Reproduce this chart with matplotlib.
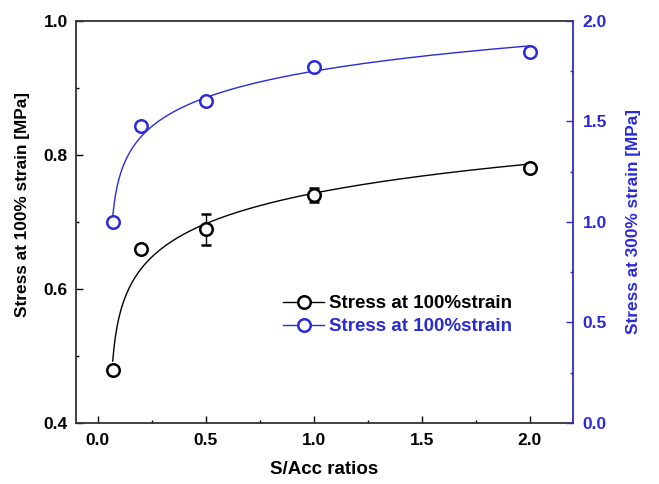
import numpy as np
import matplotlib
matplotlib.use("Agg")
import matplotlib.pyplot as plt
from matplotlib.ticker import MultipleLocator

plt.rcParams['font.family'] = ['Liberation Sans', 'DejaVu Sans']
plt.rcParams['font.weight'] = 'bold'

# Data
ratios = [0.07, 0.2, 0.5, 1.0, 2.0]
stress100 = [0.479, 0.660, 0.689, 0.740, 0.780]
stress100_err = [0.0, 0.0, 0.023, 0.010, 0.005]
stress300 = [1.00, 1.476, 1.600, 1.768, 1.846]
legend_labels = ["Stress at 100%strain", "Stress at 100%strain"]

BLUE = '#2a2ad8'
FIT_OFFSET = 0.055  # shape parameter of the logarithmic fit y = a + b*ln(x - x0)


def log_fit(x, y, x0=FIT_OFFSET):
    x = np.asarray(x, float)
    y = np.asarray(y, float)
    X = np.column_stack([np.ones_like(x), np.log(x - x0)])
    coef, *_ = np.linalg.lstsq(X, y, rcond=None)
    xs = np.linspace(x.min(), x.max(), 300)
    return xs, coef[0] + coef[1] * np.log(xs - x0)


fig = plt.figure(figsize=(6.59, 4.84), dpi=100)
ax = fig.add_axes([0.1153, 0.126, 0.7542, 0.8312])
ax2 = ax.twinx()

MS, MEW = 9, 1.8

# black series
fx, fy = log_fit(ratios, stress100)
ax.plot(fx, fy, color='black', lw=1.0)
ax.errorbar(ratios, stress100, yerr=stress100_err, fmt='o', mfc='white',
            mec='black', ms=MS, mew=MEW, ecolor='black', elinewidth=1.0,
            capsize=3.5, capthick=1.0, zorder=5)

# blue series
bx, by = log_fit(ratios, stress300)
ax2.plot(bx, by, color=BLUE, lw=1.0)
ax2.plot(ratios, stress300, 'o', mfc='white', mec=BLUE, ms=MS, mew=MEW, zorder=5)

ax.set_xlim(-0.1, 2.2)
ax.set_ylim(0.4, 1.0)
ax2.set_ylim(0.0, 2.0)

ax.xaxis.set_major_locator(MultipleLocator(0.5))
ax.xaxis.set_minor_locator(MultipleLocator(0.25))
ax.yaxis.set_major_locator(MultipleLocator(0.2))
ax.yaxis.set_minor_locator(MultipleLocator(0.1))
ax2.yaxis.set_major_locator(MultipleLocator(0.5))
ax2.yaxis.set_minor_locator(MultipleLocator(0.25))

TS = 12.5
ax.tick_params(axis='both', which='both', direction='in', labelsize=TS, width=1.0)
ax.tick_params(which='major', length=5)
ax.tick_params(which='minor', length=2.5)
ax.tick_params(axis='y', pad=6)
ax.tick_params(axis='x', pad=7)
ax.tick_params(top=False, which='both')
ax2.tick_params(axis='y', which='both', direction='in', colors=BLUE, labelsize=TS, width=1.0, pad=7)
ax2.tick_params(which='major', length=5)
ax2.tick_params(which='minor', length=2.5)

for lab in ax.get_xticklabels() + ax.get_yticklabels() + ax2.get_yticklabels():
    lab.set_fontweight('bold')

for s in ['left', 'bottom', 'top']:
    ax.spines[s].set_linewidth(1.3)
    ax.spines[s].set_color('#333333')
ax.spines['right'].set_visible(False)
ax2.spines['right'].set_color(BLUE)
ax2.spines['right'].set_linewidth(1.3)
for s in ['left', 'bottom', 'top']:
    ax2.spines[s].set_visible(False)

ax.set_xlabel('S/Acc ratios', fontsize=13.5, fontweight='bold')
ax.xaxis.set_label_coords(0.5, -0.094)
ax.set_ylabel('Stress at 100% strain [MPa]', fontsize=12.4, fontweight='bold')
ax.yaxis.set_label_coords(-0.0926, 0.544)
ax2.set_ylabel('Stress at 300% strain [MPa]', fontsize=12.4, fontweight='bold', color=BLUE)
ax2.yaxis.set_label_coords(1.107, 0.5)

# legend
h1, = ax.plot([], [], '-o', color='black', mfc='white', mec='black', ms=MS, mew=MEW, lw=1.0)
h2, = ax.plot([], [], '-o', color=BLUE, mfc='white', mec=BLUE, ms=MS, mew=MEW, lw=1.0)
leg = ax.legend([h1, h2], legend_labels, loc='center left', bbox_to_anchor=(0.4165, 0.268),
                frameon=False, handlelength=2.2, handletextpad=0.27,
                labelspacing=0.3, borderpad=0, borderaxespad=0,
                prop={'weight': 'bold', 'size': 13.5})
leg.get_texts()[1].set_color(BLUE)

fig.savefig('out.png', dpi=100)
